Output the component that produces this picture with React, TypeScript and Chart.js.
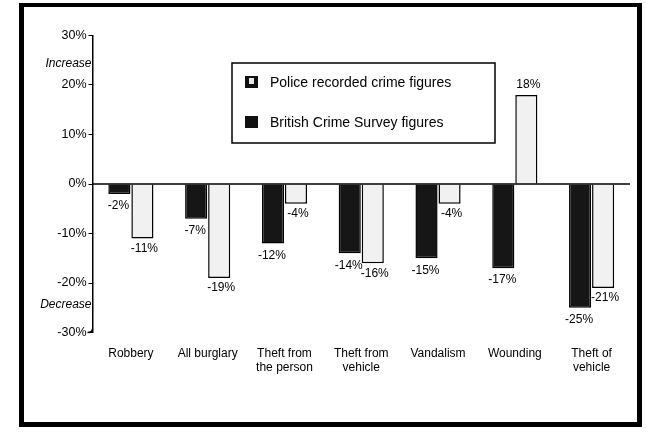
import React, { useEffect, useRef } from "react";
import { Chart, registerables } from "chart.js";

Chart.register(...registerables);

const categories: string[][] = [
  ["Robbery"],
  ["All burglary"],
  ["Theft from", "the person"],
  ["Theft from", "vehicle"],
  ["Vandalism"],
  ["Wounding"],
  ["Theft of", "vehicle"],
];
const bcsValues = [-2, -7, -12, -14, -15, -17, -25];
const policeValues = [-11, -19, -4, -16, -4, 18, -21];
const yTicks = [30, 20, 10, 0, -10, -20, -30];
const bcsName = "British Crime Survey figures";
const policeName = "Police recorded crime figures";
const axisNotes = [
  { text: "Increase", value: 24.4 },
  { text: "Decrease", value: -24.4 },
];

const FONT = '"Liberation Sans", Arial, Helvetica, sans-serif';

const decorPlugin = {
  id: "decor",
  beforeDraw(chart: any) {
    const { ctx, width, height } = chart;
    ctx.save();
    ctx.fillStyle = "#ffffff";
    ctx.fillRect(0, 0, width, height);
    ctx.restore();
  },
  afterDatasetsDraw(chart: any) {
    const { ctx, chartArea } = chart;
    const y = chart.scales.y;
    const z = y.getPixelForValue(0);
    ctx.save();
    // zero line
    ctx.strokeStyle = "#000";
    ctx.lineWidth = 1.5;
    ctx.beginPath();
    ctx.moveTo(chartArea.left, z);
    ctx.lineTo(chartArea.right, z);
    ctx.stroke();

    // value labels
    ctx.fillStyle = "#000";
    ctx.font = `12px ${FONT}`;
    ctx.textAlign = "center";
    ctx.textBaseline = "middle";
    chart.data.datasets.forEach((ds: any, di: number) => {
      const meta = chart.getDatasetMeta(di);
      meta.data.forEach((bar: any, i: number) => {
        const v = ds.data[i];
        const txt = `${v}%`;
        const off = di === 0 ? 12 : 10;
        const ty = v >= 0 ? bar.y - off : bar.y + off;
        ctx.fillText(txt, bar.x + (di === 0 ? -1 : 2), ty);
      });
    });

    // Increase / Decrease notes
    ctx.font = `italic 12px ${FONT}`;
    ctx.textAlign = "right";
    axisNotes.forEach((n) => {
      ctx.fillText(n.text, chartArea.left - 1, y.getPixelForValue(n.value));
    });

    // hook at the bottom of y axis
    const bottom = y.getPixelForValue(-30);
    ctx.lineWidth = 1.5;
    ctx.beginPath();
    ctx.moveTo(chartArea.left, bottom - 4);
    ctx.quadraticCurveTo(chartArea.left, bottom, chartArea.left - 5, bottom);
    ctx.stroke();

    // legend box
    const bx = 232, by = 63, bw = 263, bh = 80;
    ctx.lineWidth = 1.5;
    ctx.strokeRect(bx, by, bw, bh);
    ctx.font = `14px ${FONT}`;
    ctx.textAlign = "left";
    const items = [
      { name: chart.data.datasets[1].label, light: true, y: by + 19 },
      { name: chart.data.datasets[0].label, light: false, y: by + 59 },
    ];
    items.forEach((it) => {
      ctx.fillStyle = "#111";
      ctx.fillRect(bx + 13, it.y - 6, 13, 12);
      if (it.light) {
        ctx.fillStyle = "#e8e8e8";
        ctx.fillRect(bx + 17, it.y - 4, 5, 6);
      }
      ctx.fillStyle = "#000";
      ctx.fillText(it.name, bx + 38, it.y + 1);
    });

    ctx.restore();
  },
  afterDraw(chart: any) {
    const { ctx } = chart;
    ctx.save();
    ctx.fillStyle = "#000";
    ctx.fillRect(19, 3, 5, 424); // left
    ctx.fillRect(19, 3, 623, 4); // top
    ctx.fillRect(637, 3, 5, 424); // right
    ctx.fillRect(19, 422, 623, 5); // bottom
    ctx.restore();
  },
};

export default function App() {
  const ref = useRef<HTMLCanvasElement | null>(null);
  useEffect(() => {
    if (!ref.current) return;
    const chart = new Chart(ref.current, {
      type: "bar",
      data: {
        labels: categories,
        datasets: [
          {
            label: bcsName,
            data: bcsValues,
            backgroundColor: "#161616",
            borderColor: "#000",
            borderWidth: 1.5,
            categoryPercentage: 0.6,
            barPercentage: 0.96,
          },
          {
            label: policeName,
            data: policeValues,
            backgroundColor: "#f1f1f1",
            borderColor: "#000",
            borderWidth: 1.5,
            categoryPercentage: 0.6,
            barPercentage: 0.96,
          },
        ],
      },
      options: {
        animation: false,
        responsive: false,
        maintainAspectRatio: false,
        layout: { padding: { left: 0, right: 16, top: 35.5, bottom: 0 } },
        plugins: {
          legend: { display: false },
          tooltip: { enabled: false },
        },
        scales: {
          x: {
            grid: { display: false },
            border: { display: false },
            ticks: {
              color: "#000",
              font: { family: FONT, size: 12 },
              padding: 6,
              maxRotation: 0,
              autoSkip: false,
            },
            afterFit(scale: any) {
              scale.height = 99.5;
            },
          },
          y: {
            min: -30,
            max: 30,
            afterBuildTicks(scale: any) {
              scale.ticks = yTicks.map((v) => ({ value: v }));
            },
            afterFit(scale: any) {
              scale.width = 92.5;
            },
            grid: {
              drawOnChartArea: false,
              drawTicks: true,
              tickLength: 4,
              color: "#000",
              lineWidth: 1,
            },
            border: { display: true, color: "#000", width: 1.5 },
            ticks: {
              color: "#000",
              font: { family: FONT, size: 12.5 },
              padding: 2,
              callback: (v: any) => `${v}%`,
            },
          },
        },
      },
      plugins: [decorPlugin],
    });
    return () => chart.destroy();
  }, []);

  return (
    <div style={{ position: "fixed", left: 0, top: 0, width: 646, height: 432, background: "#fff" }}>
      <canvas ref={ref} width={646} height={432} style={{ display: "block", width: 646, height: 432 }} />
    </div>
  );
}
